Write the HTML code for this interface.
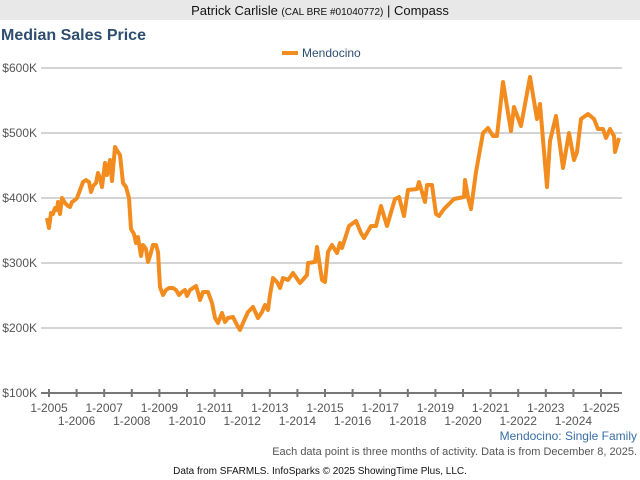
<!DOCTYPE html>
<html><head><meta charset="utf-8"><style>
body{margin:0;width:640px;height:480px;background:#fff;font-family:"Liberation Sans",sans-serif;overflow:hidden;position:relative}
.hdr{position:absolute;left:0;top:0;width:640px;height:20px;background:#e8e8e8;text-align:center;font-size:13px;line-height:22px;color:#111}
.hdr small{font-size:10px}
</style></head><body>
<div class="hdr">Patrick Carlisle <small>(CAL BRE #01040772)</small> | Compass</div>
<svg width="640" height="480" style="position:absolute;left:0;top:0" font-family="Liberation Sans, sans-serif">
<text x="1" y="40" font-size="16" font-weight="bold" fill="#2e4e70">Median Sales Price</text>
<rect x="282" y="51" width="16" height="4" fill="#f28c1e"/>
<text x="302" y="57" font-size="12" fill="#2e4e70">Mendocino</text>
<g stroke="#aaa" stroke-width="1">
<line x1="41" y1="68" x2="622" y2="68"/><line x1="41" y1="133" x2="622" y2="133"/>
<line x1="41" y1="198" x2="622" y2="198"/><line x1="41" y1="263" x2="622" y2="263"/>
<line x1="41" y1="328" x2="622" y2="328"/>
</g>
<line x1="41" y1="393" x2="622" y2="393" stroke="#777" stroke-width="2"/>
<g stroke="#777" stroke-width="2" id="ticks"></g>
<g font-size="12" fill="#555" text-anchor="end">
<text x="37" y="72">$600K</text><text x="37" y="137">$500K</text><text x="37" y="202">$400K</text>
<text x="37" y="267">$300K</text><text x="37" y="332">$200K</text><text x="37" y="397">$100K</text>
</g>
<g font-size="12" fill="#555" text-anchor="middle" id="xl"></g>
<polyline fill="none" stroke="#f28c1e" stroke-width="4" stroke-linejoin="round" points="47,218 49,228 51,213 53,214 55,208 57,210 58,202 60,214 62,198 65,203 68,206 70,207 72,202 75,200 77,198 80,190 83,182 86,180 89,182 91,192 93,186 96,183 98,173 100,178 102,187 105,163 107,175 110,160 112,181 115,147 118,152 120,155 123,183 126,187 129,198 131,229 134,234 136,243 138,237 141,256 143,245 146,249 148,262 150,256 153,245 156,245 158,252 160,287 163,295 166,290 169,288 173,288 176,290 179,295 182,292 185,290 187,296 190,290 193,288 196,286 199,296 200,300 203,292 208,292 212,303 215,318 218,323 222,313 225,322 228,318 233,317 237,325 240,330 243,323 248,312 253,307 258,318 262,312 265,305 268,310 270,295 273,278 277,282 280,288 283,278 288,280 293,273 300,283 307,275 308,263 315,262 317,247 322,280 325,282 328,252 332,245 337,253 340,243 342,248 349,226 356,221 361,233 364,238 371,226 376,226 381,206 387,226 392,209 395,199 399,197 404,216 408,190 417,189 419,182 425,202 427,185 432,185 436,214 439,216 444,209 449,204 454,199 464,197 465,180 468,197 471,209 476,172 483,133 488,128 493,136 497,136 503,82 511,131 514,107 521,126 530,77 537,119 540,104 547,187 550,141 556,116 563,168 569,133 574,160 577,152 581,119 588,114 594,119 598,129 603,129 606,138 610,129 614,136 615,152 619,138"/>
<text x="637" y="440" font-size="12" fill="#3a6ea5" text-anchor="end">Mendocino: Single Family</text>
<text x="637" y="455" font-size="11" fill="#555" text-anchor="end">Each data point is three months of activity. Data is from December 8, 2025.</text>
<text x="320" y="474" font-size="10" fill="#111" text-anchor="middle">Data from SFARMLS. InfoSparks © 2025 ShowingTime Plus, LLC.</text>
</svg>
<script>
var t=document.getElementById('ticks'),l=document.getElementById('xl'),ns='http://www.w3.org/2000/svg';
for(var i=0;i<=20;i++){var x=49+i*27.6;var ln=document.createElementNS(ns,'line');ln.setAttribute('x1',x);ln.setAttribute('x2',x);ln.setAttribute('y1',389);ln.setAttribute('y2',397);t.appendChild(ln);
var tx=document.createElementNS(ns,'text');tx.setAttribute('x',x);tx.setAttribute('y',i%2?425:412);tx.textContent='1-'+(2005+i);l.appendChild(tx);}
</script>
</body></html>
